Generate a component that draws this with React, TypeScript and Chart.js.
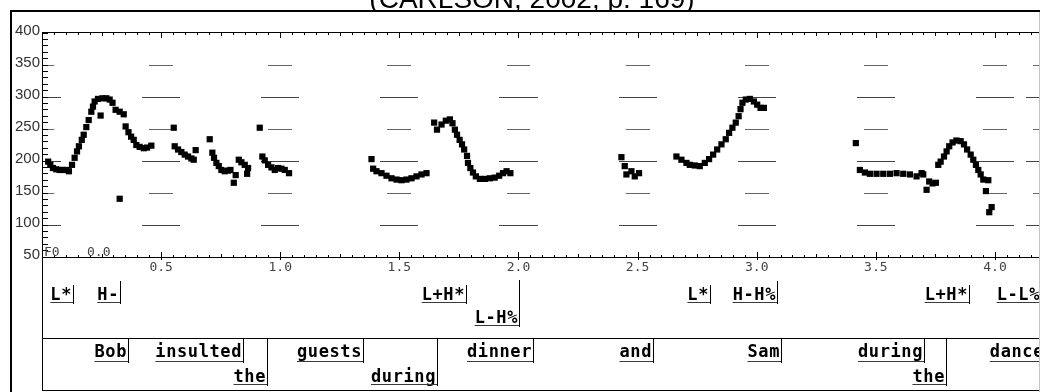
import React, { useEffect, useRef } from 'react';
import { Chart, registerables } from 'chart.js';

Chart.register(...registerables);

const TITLE = '(CARLSON, 2002, p. 169)';

// F0 samples: time (s) and pitch (Hz)
const f0Times = [
  0.026, 0.035, 0.046, 0.060, 0.074, 0.088, 0.102, 0.113, 0.126, 0.137, 0.147, 0.155, 0.167, 0.175,
  0.186, 0.196, 0.207, 0.214, 0.221, 0.235, 0.254, 0.270, 0.284, 0.296, 0.309, 0.326, 0.343, 0.351,
  0.363, 0.374, 0.385, 0.396, 0.410, 0.427, 0.441, 0.459, 0.246, 0.326,
  0.553, 0.557, 0.571, 0.585, 0.599, 0.613, 0.627, 0.637, 0.645, 0.704, 0.715, 0.722, 0.732, 0.742,
  0.753, 0.767, 0.781, 0.791, 0.813, 0.805, 0.826, 0.837, 0.851, 0.865, 0.861, 0.914, 0.925, 0.935,
  0.949, 0.963, 0.977, 0.991, 1.005, 1.019, 1.037,
  1.383, 1.390, 1.404, 1.425, 1.446, 1.467, 1.488, 1.509, 1.530, 1.551, 1.572, 1.593, 1.614,
  1.646, 1.658, 1.677, 1.695, 1.712, 1.723, 1.733, 1.742, 1.753, 1.763, 1.772, 1.784, 1.788, 1.798,
  1.809, 1.821, 1.838, 1.859, 1.880, 1.900, 1.919, 1.935, 1.950, 1.966,
  2.432, 2.446, 2.453, 2.474, 2.488, 2.506,
  2.663, 2.684, 2.705, 2.719, 2.740, 2.761, 2.782, 2.800, 2.817, 2.834, 2.852, 2.870, 2.884, 2.898,
  2.912, 2.924, 2.932, 2.940, 2.954, 2.971, 2.988, 3.002, 3.016, 3.030,
  3.416, 3.433, 3.454, 3.475, 3.503, 3.531, 3.559, 3.587, 3.615, 3.643, 3.671, 3.692, 3.699, 3.713,
  3.724, 3.738, 3.752,
  3.762, 3.772, 3.786, 3.797, 3.808, 3.822, 3.838, 3.856, 3.870, 3.883, 3.898, 3.909, 3.920, 3.930,
  3.940, 3.951, 3.972, 3.962, 3.986, 3.976,
];
const f0Values = [
  199, 194, 189, 187, 186, 186, 186, 184, 194, 205, 215, 223, 233, 241,
  253, 264, 277, 285, 293, 297, 298, 298, 296, 291, 280, 277, 273, 254,
  245, 238, 233, 225, 222, 220, 221, 224, 271, 141,
  252, 223, 218, 214, 210, 207, 204, 202, 217, 234, 213, 205, 197, 192,
  186, 184, 185, 186, 178, 166, 202, 198, 194, 189, 180, 252, 207, 201,
  194, 190, 186, 189, 188, 186, 181,
  203, 188, 184, 181, 177, 173, 171, 170, 171, 173, 176, 179, 181,
  260, 249, 257, 263, 265, 259, 249, 241, 233, 226, 218, 208, 197, 189,
  182, 176, 172, 172, 173, 174, 177, 181, 184, 181,
  206, 192, 179, 184, 176, 181,
  207, 202, 197, 194, 193, 192, 197, 203, 210, 218, 226, 234, 244, 252,
  260, 270, 281, 291, 296, 297, 293, 288, 283, 283,
  228, 186, 182, 180, 180, 180, 180, 181, 180, 179, 176, 181, 179, 155,
  168, 165, 166,
  194, 199, 207, 215, 223, 229, 232, 231, 226, 218, 210, 202, 194, 186,
  179, 171, 170, 153, 128, 120,
];

const timeMin = 0;
const timeMax = 4.21;
const hzMin = 50;
const hzMax = 400;

// reference marks drawn at every half second
const guideTimes = [0, 0.5, 1.0, 1.5, 2.0, 2.5, 3.0, 3.5, 4.0, 4.21];
const guideLongLevels = [100, 200, 300];
const guideShortLevels = [150, 250, 350];

// ToBI tone tier
const toneLabels = ['L*', 'H-', 'L+H*', 'L-H%', 'L*', 'H-H%', 'L+H*', 'L-L%'];
const toneTimes = [0.129, 0.327, 1.779, 2.002, 2.804, 3.085, 3.891, 4.193];
const toneRows = [0, 0, 0, 1, 0, 0, 0, 0];

// word tier
const wordLabels = ['Bob', 'insulted', 'the', 'guests', 'during', 'dinner', 'and', 'Sam', 'during', 'the', 'dance'];
const wordTimes = [0.361, 0.844, 0.943, 1.347, 1.658, 2.061, 2.565, 3.102, 3.702, 3.795, 4.21];
const wordRows = [0, 0, 1, 0, 1, 0, 0, 0, 0, 1, 0];

const CANVAS_W = 1050;
const CANVAS_H = 392;

const tierFont = 'bold 17px "DejaVu Sans Mono"';

const pitchPlugin = {
  id: 'pitchTrack',
  beforeDatasetsDraw(chart: any) {
    const { ctx, chartArea: a, scales } = chart;
    const x = scales.x;
    const y = scales.y;
    ctx.save();
    ctx.beginPath();
    ctx.rect(a.left, a.top, a.right - a.left, a.bottom - a.top);
    ctx.clip();
    const drawDash = (t: number, level: number, half: number, color: string) => {
      const x0 = Math.round(x.getPixelForValue(t - half));
      const x1 = Math.round(x.getPixelForValue(t + half));
      const yy = Math.floor(y.getPixelForValue(level));
      ctx.fillStyle = color;
      ctx.fillRect(x0, yy, x1 - x0, 1);
    };
    guideTimes.forEach((t) => {
      guideLongLevels.forEach((lv) => drawDash(t, lv, 0.08, '#444'));
      guideShortLevels.forEach((lv) => drawDash(t, lv, 0.05, '#666'));
    });
    ctx.restore();
  },
  afterDraw(chart: any) {
    const { ctx, chartArea: a, scales } = chart;
    const x = scales.x;
    const y = scales.y;
    ctx.save();
    ctx.fillStyle = '#000';

    const left = Math.round(a.left);
    const right = CANVAS_W;
    const topRow = Math.floor(a.top) - 1;
    const bottomRow = Math.floor(a.bottom);

    // axes
    ctx.fillRect(left, topRow, right - left, 1);
    ctx.fillRect(left, bottomRow, right - left, 1);
    ctx.fillRect(left, topRow, 1, 390 - topRow + 1);

    // time ticks on top and bottom axes
    for (let i = 0; i * 0.05 <= timeMax + 1e-9; i++) {
      const t = i * 0.05;
      const px = Math.round(x.getPixelForValue(t));
      const len = i % 10 === 0 ? 6 : i % 5 === 0 ? 4 : 3;
      ctx.fillRect(px, topRow, 1, len);
      ctx.fillRect(px, bottomRow - len + 1, 1, len);
      if (i % 10 === 0) ctx.fillRect(px, bottomRow, 1, 3);
    }

    // pitch ticks on the left axis
    for (let v = hzMin; v <= hzMax; v += 10) {
      const py = Math.floor(y.getPixelForValue(v));
      ctx.fillRect(left, py, 6, 1);
    }

    // channel name and start time
    ctx.font = '13px "DejaVu Sans Mono"';
    ctx.fillStyle = '#444';
    ctx.textAlign = 'left';
    ctx.textBaseline = 'alphabetic';
    ctx.fillText('F0', left + 2, bottomRow - 1);
    ctx.fillText('0.0', 87, bottomRow - 1);

    // tier boxes
    ctx.fillStyle = '#000';
    ctx.fillRect(left, 338, right - left, 1);
    ctx.fillRect(left, 390, right - left, 1);

    ctx.font = tierFont;
    (ctx as any).letterSpacing = '0.6px';
    ctx.textAlign = 'right';

    const drawLabel = (
      text: string,
      t: number,
      baseline: number,
      underline: number,
      lineTop: number,
      lineBottom: number
    ) => {
      const px = Math.round(x.getPixelForValue(t));
      const w = ctx.measureText(text).width;
      ctx.fillStyle = '#000';
      ctx.fillText(text, px - 1, baseline);
      ctx.fillStyle = '#3a3a3a';
      ctx.fillRect(px - w - 1, underline, w + 1, 1);
      ctx.fillStyle = '#000';
      ctx.fillRect(px, lineTop, 1, lineBottom - lineTop);
    };

    toneLabels.forEach((lab, i) => {
      const row = toneRows[i];
      const accent = lab.includes('*');
      if (row === 0) {
        drawLabel(lab, toneTimes[i], 300, 302, accent ? 285 : 281, 304);
      } else {
        drawLabel(lab, toneTimes[i], 323, 325, 280, 327);
      }
    });

    wordLabels.forEach((lab, i) => {
      const row = wordRows[i];
      if (row === 0) {
        drawLabel(lab, wordTimes[i], 357, 361, 339, 363);
      } else {
        drawLabel(lab, wordTimes[i], 382, 384, 339, 386);
      }
    });
    (ctx as any).letterSpacing = '0px';

    // outer frame
    ctx.fillStyle = '#000';
    ctx.fillRect(10, 10, 1030, 2);
    ctx.fillRect(10, 10, 2, CANVAS_H - 10);
    ctx.fillStyle = '#c4c4c4';
    ctx.fillRect(1039, 12, 1, CANVAS_H - 12);

    // title (cut by the frame)
    ctx.save();
    ctx.beginPath();
    ctx.rect(0, 0, 1040, 10);
    ctx.clip();
    ctx.fillStyle = '#000';
    ctx.font = '28px "Liberation Sans"';
    ctx.textAlign = 'center';
    ctx.textBaseline = 'alphabetic';
    ctx.fillText(TITLE, 532, 8);
    ctx.restore();

    ctx.restore();
  },
};

export default function App() {
  const canvasRef = useRef<HTMLCanvasElement | null>(null);

  useEffect(() => {
    const canvas = canvasRef.current;
    if (!canvas) return;
    const points = f0Times.map((t, i) => ({ x: t, y: f0Values[i] }));
    const chart = new Chart(canvas, {
      type: 'scatter',
      data: {
        datasets: [
          {
            label: 'F0',
            data: points,
            pointStyle: 'rect',
            pointRadius: 4.4,
            pointHoverRadius: 4.4,
            pointBackgroundColor: '#000',
            pointBorderWidth: 0,
            showLine: false,
          },
        ],
      },
      options: {
        responsive: false,
        animation: false,
        devicePixelRatio: 1,
        layout: { padding: { left: 10, top: 33, right: 5, bottom: 115 } },
        plugins: {
          legend: { display: false },
          tooltip: { enabled: false },
          title: { display: false },
        },
        scales: {
          x: {
            type: 'linear',
            min: timeMin,
            max: timeMax,
            afterFit: (s: any) => {
              s.height = 20;
            },
            grid: { display: false, drawTicks: false },
            border: { display: false },
            ticks: {
              stepSize: 0.5,
              padding: 3,
              maxRotation: 0,
              autoSkip: false,
              font: { family: 'DejaVu Sans Mono', size: 13 },
              color: '#444',
              callback: (v: any) => {
                const n = Number(v);
                const onHalf = Math.abs(n * 2 - Math.round(n * 2)) < 1e-6;
                return n > 0 && onHalf && n <= 4.0001 ? n.toFixed(1) : '';
              },
            },
          },
          y: {
            min: hzMin,
            max: hzMax,
            afterFit: (s: any) => {
              s.width = 32;
            },
            grid: { display: false, drawTicks: false },
            border: { display: false },
            ticks: {
              stepSize: 50,
              padding: 2,
              labelOffset: -2,
              font: { family: 'Liberation Sans', size: 15 },
              color: '#333',
            },
          },
        },
      },
      plugins: [pitchPlugin],
    });
    return () => chart.destroy();
  }, []);

  return (
    <div
      style={{
        position: 'fixed',
        left: 0,
        top: 0,
        width: 1040,
        height: CANVAS_H,
        overflow: 'hidden',
        background: '#fff',
      }}
    >
      <canvas ref={canvasRef} width={CANVAS_W} height={CANVAS_H} style={{ display: 'block' }} />
    </div>
  );
}
